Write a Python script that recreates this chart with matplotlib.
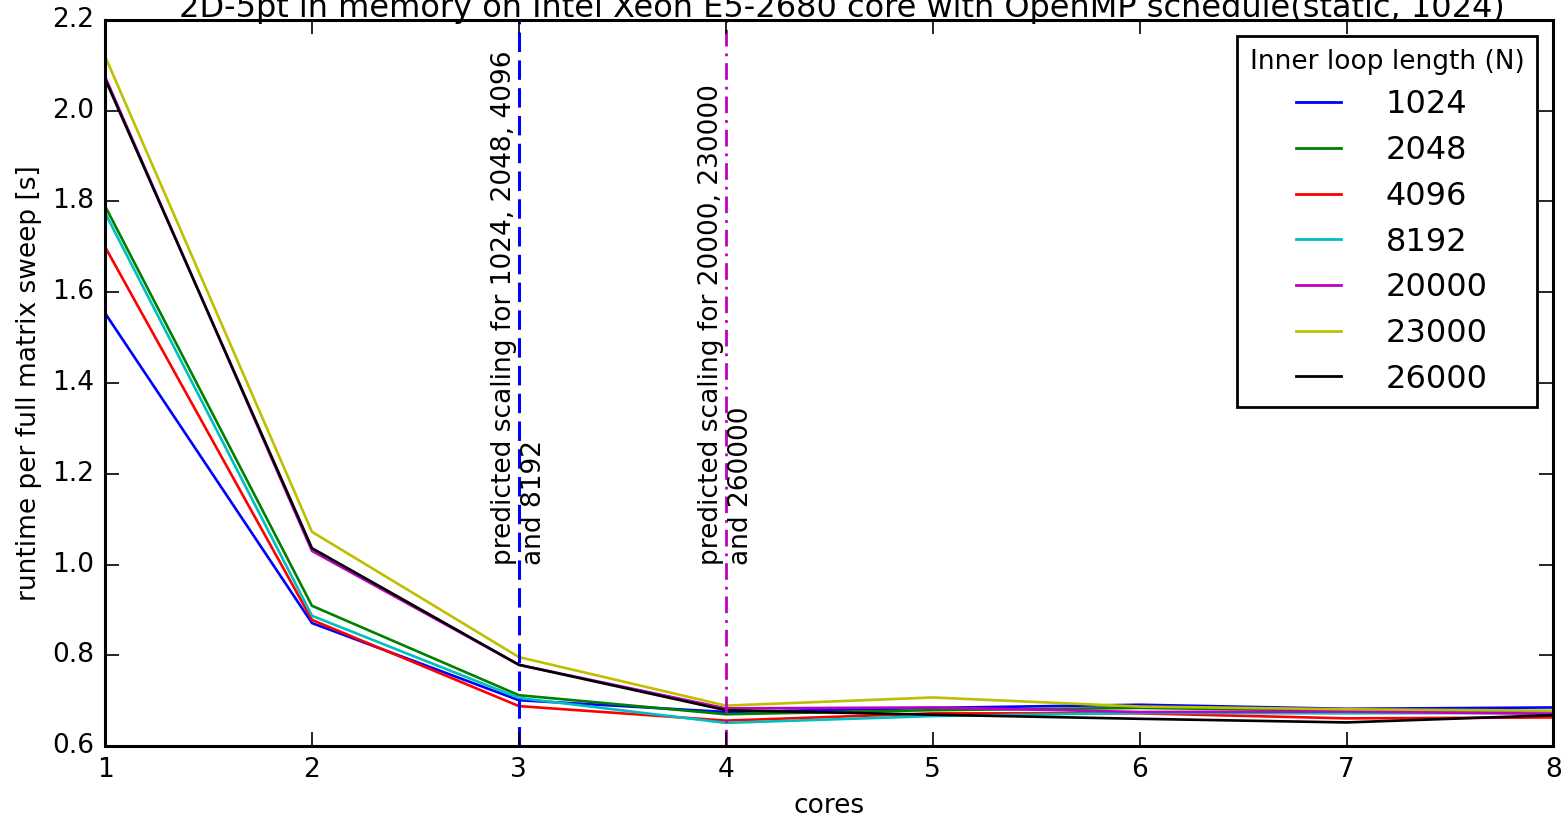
import matplotlib
matplotlib.use('Agg')
import matplotlib.pyplot as plt

plt.style.use('classic')
plt.rcParams['font.family'] = 'DejaVu Sans'
plt.rcParams['lines.scale_dashes'] = False

cores = [1, 2, 3, 4, 5, 6, 7, 8]
sizes = ['1024', '2048', '4096', '8192', '20000', '23000', '26000']
colors = ['b', 'g', 'r', 'c', 'm', 'y', 'k']

# runtime per full matrix sweep [s]
rt_1024 = [1.554, 0.871, 0.701, 0.675, 0.684, 0.691, 0.682, 0.685]
rt_2048 = [1.790, 0.909, 0.712, 0.670, 0.679, 0.684, 0.678, 0.676]
rt_4096 = [1.700, 0.878, 0.688, 0.656, 0.672, 0.672, 0.661, 0.663]
rt_8192 = [1.775, 0.887, 0.706, 0.651, 0.666, 0.673, 0.672, 0.673]
rt_20000 = [2.075, 1.030, 0.779, 0.683, 0.685, 0.675, 0.676, 0.671]
rt_23000 = [2.120, 1.072, 0.796, 0.689, 0.707, 0.687, 0.681, 0.678]
rt_26000 = [2.070, 1.036, 0.779, 0.679, 0.669, 0.660, 0.652, 0.668]
runtimes = [rt_1024, rt_2048, rt_4096, rt_8192, rt_20000, rt_23000, rt_26000]

fig = plt.figure(figsize=(15.68, 8.19), dpi=100, facecolor='white')
ax = fig.add_axes([0.067, 0.0891, 0.9237, 0.8865])

for size, rt, c in zip(sizes, runtimes, colors):
    ax.plot(cores, rt, color=c, lw=1.9, label=size)

# predicted scaling markers
ax.axvline(3, color='b', ls='--', lw=2.2, dashes=(14, 6))
ax.axvline(4, color='m', ls='-.', lw=2.0, dashes=(12, 5, 2, 5))
ax.text(3, 1.0, 'predicted scaling for 1024, 2048, 4096\nand 8192',
        rotation=90, ha='center', va='bottom', multialignment='left', fontsize=19)
ax.text(4, 1.0, 'predicted scaling for 20000, 230000\nand 260000',
        rotation=90, ha='center', va='bottom', multialignment='left', fontsize=19)

ax.set_xlim(1, 8)
ax.set_ylim(0.6, 2.2)
ax.set_xticks(cores)
ax.set_yticks([0.6, 0.8, 1.0, 1.2, 1.4, 1.6, 1.8, 2.0, 2.2])
ax.tick_params(labelsize=19, length=10, width=1.2, direction='in', pad=8)
for sp in ax.spines.values():
    sp.set_linewidth(2.2)

ax.set_xlabel('cores', fontsize=19, labelpad=7)
ax.set_ylabel('runtime per full matrix sweep [s]', fontsize=19, labelpad=7)
ax.set_title('2D-5pt in memory on Intel Xeon E5-2680 core with OpenMP schedule(static, 1024)',
             fontsize=23, pad=2, x=0.509)

leg = ax.legend(loc='upper right', title='Inner loop length (N)', fontsize=23,
                title_fontsize=19, handlelength=2.0, labelspacing=0.46,
                borderaxespad=0.5, handletextpad=1.1, borderpad=0.4)
leg.get_frame().set_linewidth(2.0)
leg.get_frame().set_edgecolor('black')
for h in leg.get_lines():
    h.set_linewidth(2.0)

fig.savefig('out.png', dpi=100, facecolor='white')
